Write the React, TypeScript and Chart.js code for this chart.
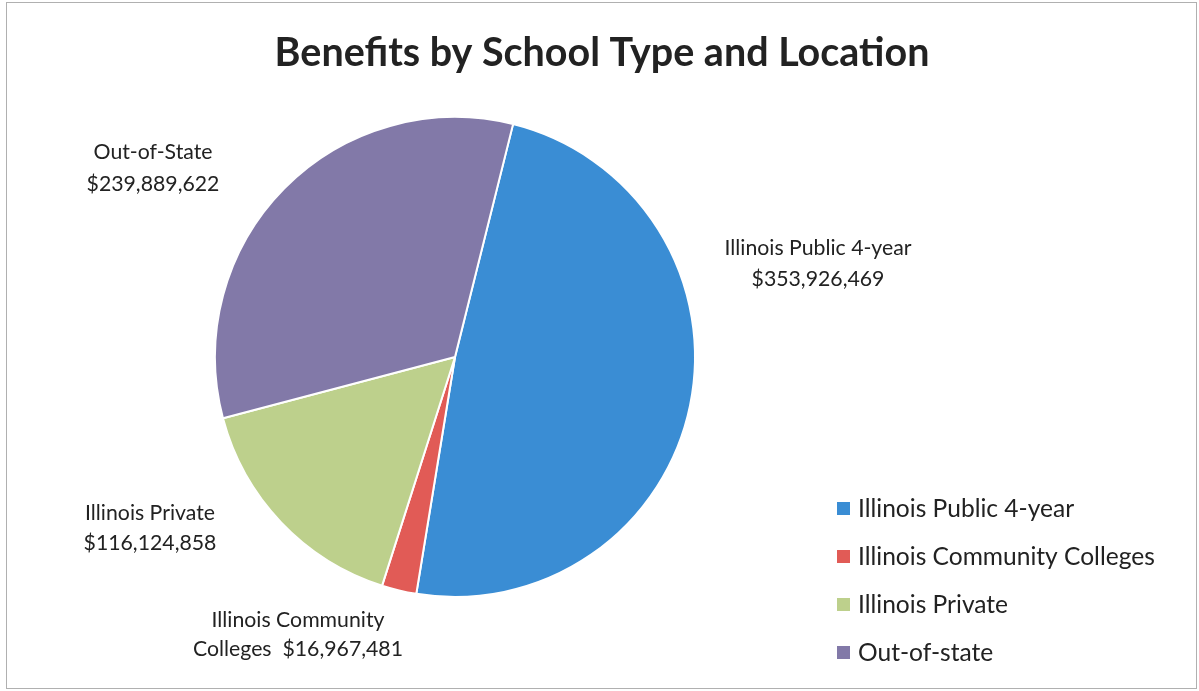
import { useEffect, useRef } from "react";
import { Chart, registerables } from "chart.js";

Chart.register(...registerables);

const title = "Benefits by School Type and Location";
const categories = [
  "Illinois Public 4-year",
  "Illinois Community Colleges",
  "Illinois Private",
  "Out-of-state",
];
const values = [353926469, 16967481, 116124858, 239889622];
const colors = ["#3a8dd4", "#e15b56", "#bdd08c", "#8279a8"];
const labelNames = ["Illinois Public 4-year", "Illinois Community", "Illinois Private", "Out-of-State"];
const labelValuePrefix = ["", "Colleges  ", "", ""];

const FONT = "Lato, 'Open Sans', sans-serif";
const TEXT = "#222222";

function fitSize(ctx: CanvasRenderingContext2D, text: string, width: number, weight: string) {
  ctx.font = `${weight} 100px ${FONT}`;
  const w = ctx.measureText(text).width;
  return (100 * width) / w;
}

const fmt = (v: number) => "$" + v.toLocaleString("en-US");

const decorPlugin = {
  id: "decor",
  afterDraw(chart: any) {
    const ctx: CanvasRenderingContext2D = chart.ctx;
    ctx.save();
    // frame
    ctx.strokeStyle = "#b0b0b0";
    ctx.lineWidth = 1;
    ctx.strokeRect(6.5, 2.5, 1190, 686);

    // title
    const ts = fitSize(ctx, title, 655, "bold");
    ctx.font = `bold ${ts}px ${FONT}`;
    ctx.fillStyle = "#222222";
    ctx.textAlign = "center";
    ctx.textBaseline = "middle";
    ctx.fillText(title, 602, 53);

    // slice labels
    const ls = fitSize(ctx, fmt(values[3]), 133, "normal");
    ctx.font = `${ls}px ${FONT}`;
    ctx.fillStyle = TEXT;
    const pos = [
      [818, 248, 279],
      [298, 620, 649],
      [150, 513, 543],
      [153, 152, 184],
    ];
    labelNames.forEach((name, i) => {
      const [x, y1, y2] = pos[i];
      ctx.fillText(name, x, y1);
      ctx.fillText(labelValuePrefix[i] + fmt(values[i]), x, y2);
    });

    // legend
    const gs = fitSize(ctx, categories[1], 297, "normal");
    ctx.font = `${gs}px ${FONT}`;
    ctx.textAlign = "left";
    categories.forEach((c, i) => {
      const y = 508 + i * 48;
      ctx.fillStyle = colors[i];
      ctx.fillRect(837, y - 6, 13, 13);
      ctx.fillStyle = TEXT;
      ctx.fillText(c, 858, y + 1);
    });
    ctx.restore();
  },
};

export default function App() {
  const ref = useRef<HTMLCanvasElement>(null);
  useEffect(() => {
    if (!ref.current) return;
    const chart = new Chart(ref.current, {
      type: "pie",
      data: {
        labels: categories,
        datasets: [
          {
            data: values,
            backgroundColor: colors,
            borderColor: "#ffffff",
            borderWidth: 2,
          },
        ],
      },
      options: {
        animation: false,
        responsive: true,
        maintainAspectRatio: false,
        rotation: 14,
        layout: { padding: { left: 214, top: 116, right: 503, bottom: 93 } },
        plugins: {
          legend: { display: false },
          title: { display: false },
          tooltip: { enabled: false },
        },
      },
      plugins: [decorPlugin],
    });
    return () => chart.destroy();
  }, []);
  return (
    <div style={{ position: "fixed", left: 0, top: 0, width: 1199, height: 691, background: "#fff" }}>
      <canvas ref={ref} />
    </div>
  );
}
